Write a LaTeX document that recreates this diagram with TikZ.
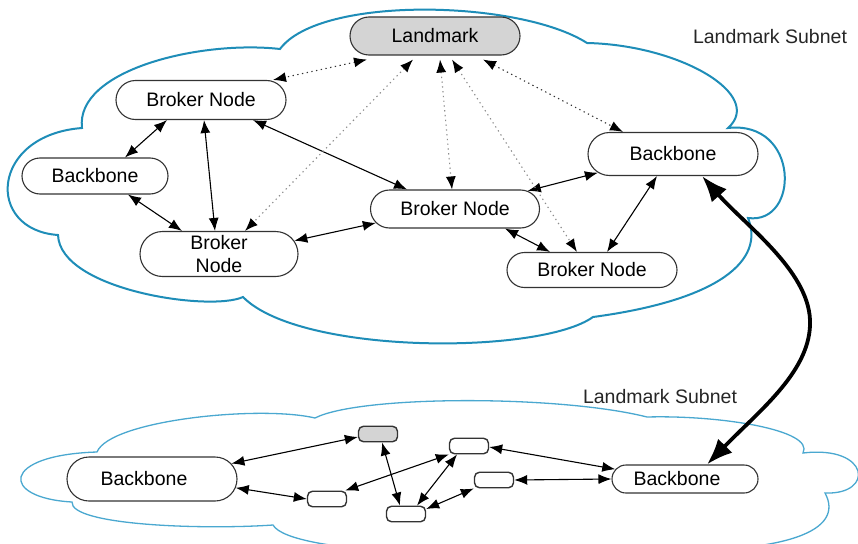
\documentclass[tikz,border=0pt]{standalone}
\usepackage{fontspec}
\setmainfont{Liberation Sans}
\usetikzlibrary{arrows.meta,shapes.misc}
\definecolor{cloudA}{HTML}{1E8DB8}
\definecolor{cloudB}{HTML}{4AA8D0}
\definecolor{edgec}{HTML}{333333}
\definecolor{lmfill}{HTML}{D4D4D4}
\newcommand\nodefont{\fontsize{19.5}{23}\selectfont}
\begin{document}
\begin{tikzpicture}[x=1pt,y=-1pt,
  pill/.style={rounded rectangle, draw=edgec, fill=white, line width=1.1pt, inner sep=0pt, font=\nodefont},
  smallbox/.style={rectangle, rounded corners=5pt, draw=edgec, line width=1.4pt, fill=white, minimum width=39pt, minimum height=15.5pt, inner sep=0pt},
  link/.style={line width=1.1pt, {Latex[length=13pt,width=10pt,color=black]}-{Latex[length=13pt,width=10pt,color=black]}},
  dlink/.style={link, dash pattern=on 1.3pt off 3.5pt, draw=black!80},
  llink/.style={link, dash pattern=on 1.3pt off 3.5pt, draw=black!45},
  biglink/.style={line width=3.8pt, {Latex[length=26pt,width=20pt]}-{Latex[length=26pt,width=20pt]}},
  cloudlabel/.style={font=\nodefont, text=black!85, inner sep=0pt}
]
\useasboundingbox (0,0) rectangle (858,543);
\fill[white] (0,0) rectangle (858,543);

% top cloud
\draw[cloudA, line width=2pt, fill=white]
  (82,128) .. controls (75,70) and (200,40) .. (280,49)
  .. controls (320,-5) and (520,0) .. (587,43)
  .. controls (680,45) and (765,95) .. (728,128)
  .. controls (800,120) and (800,225) .. (748,218)
  .. controls (765,260) and (720,300) .. (593,317)
  .. controls (540,355) and (300,355) .. (243,297)
  .. controls (210,312) and (60,290) .. (58,235)
  .. controls (-15,230) and (-10,135) .. (82,128) -- cycle;

% bottom cloud
\draw[cloudB, line width=1.3pt, fill=white]
  (97,452) .. controls (110,420) and (260,405) .. (315,418)
  .. controls (360,395) and (560,395) .. (647,417)
  .. controls (720,415) and (815,430) .. (803,453)
  .. controls (870,445) and (875,495) .. (825,493)
  .. controls (845,530) and (790,555) .. (640,550)
  .. controls (500,560) and (290,555) .. (273,525)
  .. controls (200,530) and (70,525) .. (72,502)
  .. controls (0,498) and (0,455) .. (97,452) -- cycle;

% labels
\node[cloudlabel] (lab1) at (770,37) {Landmark Subnet};
\node[cloudlabel] (lab2) at (660,397) {Landmark Subnet};

% top nodes
\node[pill, fill=lmfill, minimum width=170pt, minimum height=38pt] (lm) at (435,36) {Landmark};
\node[pill, minimum width=170pt, minimum height=39pt] (tl) at (201,100) {Broker Node};
\node[pill, minimum width=146pt, minimum height=36pt] (bbl) at (95,176) {Backbone};
\node[pill, minimum width=158pt, minimum height=45pt, align=center, font=\fontsize{19.5}{23}\selectfont] (bl) at (219,254) {Broker\\[-0.5pt]Node};
\node[pill, minimum width=169pt, minimum height=38pt] (bm) at (455,209) {Broker Node};
\node[pill, minimum width=170pt, minimum height=43pt] (bbr) at (673,154) {Backbone};
\node[pill, minimum width=170pt, minimum height=35pt] (br) at (592,270) {Broker Node};

% bottom nodes
\node[pill, minimum width=170pt, minimum height=44pt] (bbL) at (152,479) {\hspace*{-16pt}Backbone};
\node[pill, minimum width=146pt, minimum height=28pt] (bbR) at (685,479) {\hspace*{-16pt}Backbone};
\node[smallbox, fill=lmfill] (g) at (378,434) {};
\node[smallbox] (sa) at (469,446) {};
\node[smallbox] (sb) at (494,480) {};
\node[smallbox] (sc) at (327,499) {};
\node[smallbox] (sd) at (406,514) {};

% top solid links
\draw[link] ([xshift=-34pt]tl.south) -- ([xshift=30pt]bbl.north);
\draw[link] ([xshift=3pt]tl.south) -- ([xshift=-4pt]bl.north);
\draw[link] ([xshift=52pt]tl.south) -- ([xshift=-48pt]bm.north);
\draw[link] ([xshift=33pt]bbl.south) -- ([xshift=-37pt]bl.north);
\draw[link] (bl.10) -- (bm.190);
\draw[link] (bm.14) -- (bbr.194);
\draw[link] ([xshift=50pt]bm.south) -- ([xshift=-42pt]br.north);
\draw[link] ([xshift=-16pt]bbr.south) -- ([xshift=15pt]br.north);

% dotted links to landmark
\draw[dlink] ([xshift=-68pt,yshift=-4pt]lm.south) -- ([xshift=72pt]tl.north);
\draw[llink] ([xshift=-22pt,yshift=-4pt]lm.south) -- ([xshift=26pt]bl.north);
\draw[llink] ([xshift=5pt,yshift=-4pt]lm.south) -- ([xshift=-3pt]bm.north);
\draw[llink] ([xshift=17pt,yshift=-4pt]lm.south) -- ([xshift=-15pt]br.north);
\draw[dlink] ([xshift=48pt,yshift=-4pt]lm.south) -- ([xshift=-50pt]bbr.north);

% bottom links
\draw[link] (bbL.11) -- ([yshift=-3pt]g.west);
\draw[link] (bbL.-6) -- (sc.west);
\draw[link] ([xshift=4pt]g.south) -- ([xshift=-6pt]sd.north);
\draw[link] (sa.south west) -- ([xshift=-2pt]sc.north east);
\draw[link] ([xshift=-12pt]sa.south) -- ([xshift=11pt]sd.north);
\draw[link] (sb.south west) -- ([yshift=5pt]sd.east);
\draw[link] ([yshift=-1pt]sa.east) -- (bbR.172);
\draw[link] (sb.east) -- (bbR.west);

% backbone to backbone
\draw[biglink] ([xshift=22pt]bbR.north) .. controls (760,410) and (812,370) .. (810,320)
  .. controls (808,270) and (745,225) .. ([xshift=29pt]bbr.south);
\end{tikzpicture}
\end{document}
